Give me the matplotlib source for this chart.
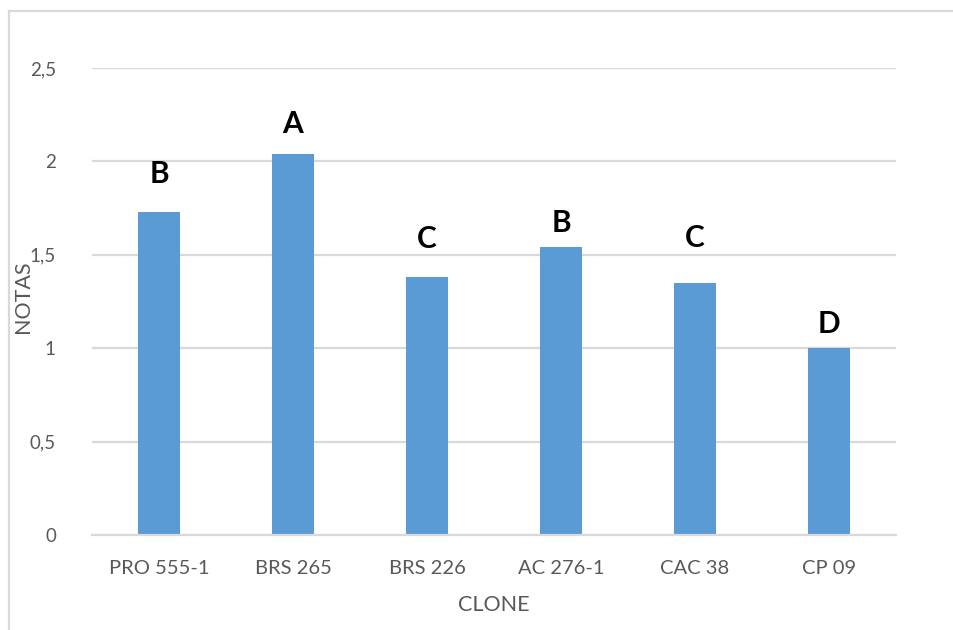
import matplotlib
matplotlib.use("Agg")
import matplotlib.pyplot as plt
from matplotlib.lines import Line2D

# Data
clones = ["PRO 555-1", "BRS 265", "BRS 226", "AC 276-1", "CAC 38", "CP 09"]
notas = [1.73, 2.04, 1.38, 1.54, 1.35, 1.00]
letters = ["B", "A", "C", "B", "C", "D"]
letter_y = [1.933, 2.200, 1.585, 1.670, 1.590, 1.130]
yticks = [0, 0.5, 1, 1.5, 2, 2.5]
yticklabels = ["0", "0,5", "1", "1,5", "2", "2,5"]

plt.rcParams["font.family"] = ["Lato", "DejaVu Sans"]

W, H = 954, 630
fig = plt.figure(figsize=(W / 100, H / 100), dpi=100)
fig.patch.set_facecolor("white")

left, right, bottom, top = 92, 896, 535, 68
ax = fig.add_axes([left / W, 1 - bottom / H, (right - left) / W, (bottom - top) / H])

grid_c = "#d9d9d9"
text_c = "#595959"
bar_c = "#5b9bd5"

x = range(len(clones))
ax.bar(x, notas, width=0.32, color=bar_c, zorder=3)

ax.set_xlim(-0.5, len(clones) - 0.5)
ax.set_ylim(0, 2.5)
ax.set_yticks(yticks)
ax.set_yticklabels(yticklabels)
ax.set_xticks(list(x))
ax.set_xticklabels(clones)

ax.yaxis.grid(True, color=grid_c, linewidth=1.6, zorder=0)
ax.set_axisbelow(True)
for s in ["top", "right", "left"]:
    ax.spines[s].set_visible(False)
ax.spines["bottom"].set_color(grid_c)
ax.spines["bottom"].set_linewidth(1.6)
ax.spines["bottom"].set_zorder(4)

ax.tick_params(axis="both", length=0, labelcolor=text_c)
ax.tick_params(axis="x", labelsize=14.5, pad=18)
ax.tick_params(axis="y", labelsize=13.5, pad=26)

ax.set_xlabel("CLONE", fontsize=15.5, color=text_c)
ax.xaxis.set_label_coords(0.5, -(605 - 535) / (bottom - top), transform=ax.transAxes)
ax.xaxis.label.set_va("center")
ax.set_ylabel("NOTAS", fontsize=15.5, color=text_c)
ax.yaxis.set_label_coords(-(92 - 23) / (right - left), (535 - 297) / (bottom - top))
ax.yaxis.label.set_va("center")

for xi, lab, ly in zip(x, letters, letter_y):
    ax.text(xi, ly, lab, ha="center", va="center", fontsize=21.5,
            fontweight="bold", color="black", zorder=5)

# Outer chart frame (top and left edges)
fig.add_artist(Line2D([9 / W, 1.0], [1 - 11 / H, 1 - 11 / H],
                      transform=fig.transFigure, color=grid_c, linewidth=1.6))
fig.add_artist(Line2D([9 / W, 9 / W], [0.0, 1 - 11 / H],
                      transform=fig.transFigure, color=grid_c, linewidth=1.6))

fig.savefig("out.png", dpi=100)
